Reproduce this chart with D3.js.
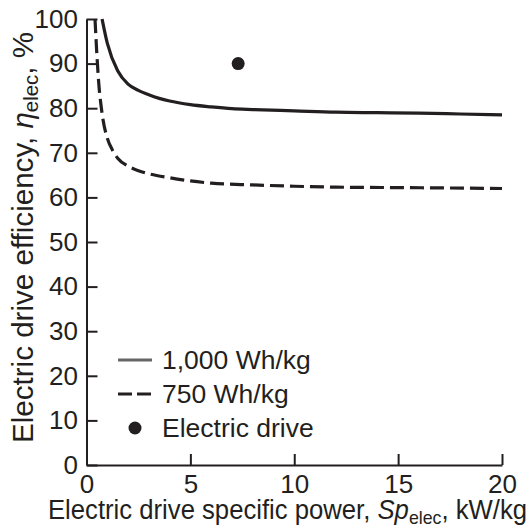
<!DOCTYPE html>
<html><head><meta charset="utf-8">
<script src="https://cdn.jsdelivr.net/npm/d3@7"></script>
<style>
html,body{margin:0;padding:0;background:#fff;}
svg text{font-family:"Liberation Sans",Arial,sans-serif;fill:#231f20;}
</style></head>
<body><svg id="c" width="532" height="529"></svg>
<script>
const xTicks = [0, 5, 10, 15, 20];
const yTicks = [0, 10, 20, 30, 40, 50, 60, 70, 80, 90, 100];
const series1000X = [0.75, 1.0, 1.5, 2.0, 2.5, 3.0, 3.5, 4.0, 5.0, 6.0, 7.0, 8.0, 10, 12, 14, 16, 18, 20];
const series1000Y = [100, 94.6, 88.4, 85.4, 84.0, 83.0, 82.2, 81.6, 80.8, 80.3, 79.9, 79.7, 79.4, 79.1, 79.0, 78.9, 78.7, 78.5];
const series750X = [0.41, 0.5, 0.6, 0.7, 0.8, 1.0, 1.25, 1.5, 2.0, 2.5, 3.0, 4.0, 5.0, 6.0, 8.0, 10, 12, 15, 20];
const series750Y = [100, 92, 85, 80.6, 77.3, 73.3, 70.6, 68.8, 67.0, 66.0, 65.3, 64.4, 63.7, 63.2, 62.8, 62.5, 62.3, 62.2, 62.0];
const driveX = [7.3];
const driveY = [90];
const legendLabels = ["1,000 Wh/kg", "750 Wh/kg", "Electric drive"];

const ink = "#231f20";
const svg = d3.select("#c");
const x = d3.scaleLinear().domain([0, 20]).range([86.5, 502]);
const y = d3.scaleLinear().domain([0, 100]).range([465, 19]);

const fs = 26;
// axes
const gx = svg.append("g").attr("transform", `translate(0,${y(0)})`)
  .call(d3.axisBottom(x).tickValues(xTicks).tickSizeInner(-11).tickSizeOuter(0).tickPadding(7));
const gy = svg.append("g").attr("transform", `translate(${x(0)},0)`)
  .call(d3.axisLeft(y).tickValues(yTicks).tickSizeInner(-11).tickSizeOuter(0).tickPadding(8.5));
[gx, gy].forEach(g => {
  g.selectAll("path.domain").attr("stroke", ink).attr("stroke-width", 2);
  g.selectAll(".tick line").attr("stroke", ink).attr("stroke-width", 2);
  g.selectAll(".tick text").attr("font-size", fs).attr("font-family", "Liberation Sans, Arial, sans-serif").attr("fill", ink);
});
gx.selectAll(".tick text").attr("y", 28).attr("dy", 0);

// lines
const line = d3.line().x(d => x(d[0])).y(d => y(d[1])).curve(d3.curveMonotoneX);
const d1000 = series1000X.map((v, i) => [v, series1000Y[i]]);
const d750 = series750X.map((v, i) => [v, series750Y[i]]);
svg.append("path").datum(d1000).attr("d", line).attr("fill", "none")
  .attr("stroke", ink).attr("stroke-width", 3.2);
svg.append("path").datum(d750).attr("d", line).attr("fill", "none")
  .attr("stroke", ink).attr("stroke-width", 3.2).attr("stroke-dasharray", "14,6");

// point
svg.selectAll("circle.pt").data(driveX.map((v, i) => [v, driveY[i]])).enter()
  .append("circle").attr("class", "pt").attr("cx", d => x(d[0])).attr("cy", d => y(d[1]))
  .attr("r", 6.5).attr("fill", ink);

// legend
const lg = svg.append("g");
const ly = [360, 394, 428];
lg.append("line").attr("x1", 118).attr("x2", 152).attr("y1", ly[0]).attr("y2", ly[0])
  .attr("stroke", "#666").attr("stroke-width", 3);
lg.append("line").attr("x1", 118).attr("x2", 152).attr("y1", ly[1]).attr("y2", ly[1])
  .attr("stroke", ink).attr("stroke-width", 3).attr("stroke-dasharray", "14,5");
lg.append("circle").attr("cx", 135).attr("cy", ly[2]).attr("r", 6.5).attr("fill", ink);
legendLabels.forEach((t, i) => {
  lg.append("text").attr("x", 162).attr("y", ly[i]).attr("dy", "0.35em")
    .attr("font-size", 26.5).text(t);
});

// axis titles
const xt = svg.append("text").attr("x", 48).attr("y", 519)
  .attr("text-anchor", "start").attr("font-size", 27.5)
  .attr("textLength", 479).attr("lengthAdjust", "spacingAndGlyphs");
xt.append("tspan").text("Electric drive specific power, ");
xt.append("tspan").attr("font-style", "italic").text("Sp");
xt.append("tspan").attr("font-size", 19).attr("dy", 5).text("elec");
xt.append("tspan").attr("dy", -5).text(", kW/kg");

const yt = svg.append("text").attr("transform", `translate(33,443) rotate(-90)`)
  .attr("text-anchor", "start").attr("font-size", 29)
  .attr("textLength", 411).attr("lengthAdjust", "spacingAndGlyphs");
yt.append("tspan").text("Electric drive efficiency, ");
yt.append("tspan").attr("font-style", "italic").text("η");
yt.append("tspan").attr("font-size", 20).attr("dy", 5).text("elec");
yt.append("tspan").attr("dy", -5).text(", %");
</script></body></html>
